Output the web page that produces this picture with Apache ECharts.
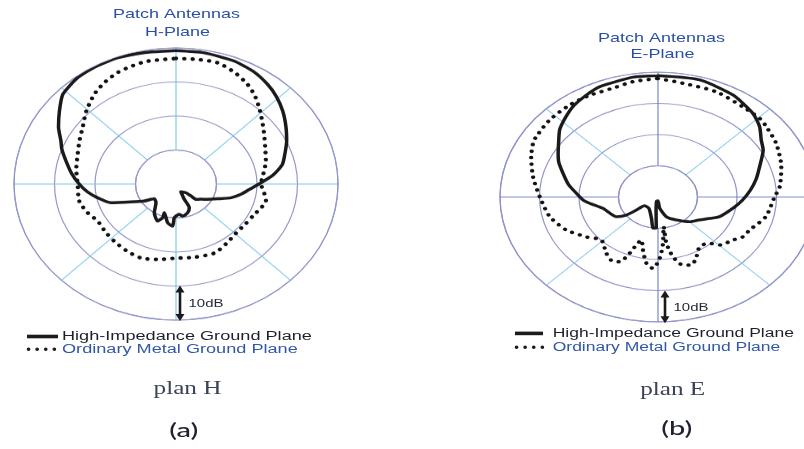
<!DOCTYPE html>
<html>
<head>
<meta charset="utf-8">
<script src="https://cdn.jsdelivr.net/npm/echarts@6/dist/echarts.min.js"></script>
<style>
  html, body { margin: 0; padding: 0; background: #fff; overflow: hidden; width: 804px; height: 449px; }
  #page { position: relative; width: 804px; height: 449px; overflow: hidden; }
  .plot { position: absolute; transform-origin: 50% 50%; }
  #labels { position: absolute; left: 0; top: 0; width: 804px; height: 449px; }
</style>
</head>
<body>
<div id="page">
  <div id="plotH" class="plot"></div>
  <div id="plotE" class="plot"></div>
  <div id="labels"></div>
</div>
<script>
// Radiation patterns as [angle in degrees clockwise from broadside, relative gain in dB]

// H-plane, high-impedance ground plane
const hPlaneHighImpedance = [
  [0, -0.8], [10, -0.8], [21.6, -1.1], [30, -1.8], [37.7, -3.0], [44, -4.3], [50.8, -6.0],
  [58, -8.0], [65.2, -9.9], [71, -11.5], [77.6, -13.1], [84, -16.0], [90, -19.5], [95, -21.8],
  [100.7, -23.7], [106.5, -25.8], [112.8, -28.8], [120, -31.0], [126, -32.4], [132.3, -33.3],
  [133.6, -34.9], [136.1, -36.4], [152.2, -37.4], [155.5, -35.1], [154.7, -32.3], [161.1, -31.1],
  [170, -30.4], [174.8, -31.1], [182.4, -30.1], [183.8, -27.6], [190.2, -28.4], [198.9, -31.1],
  [198.3, -29.6], [202.6, -28.2], [212.4, -30.0], [221.9, -32.6], [231.1, -33.1], [237.5, -30.7],
  [244.6, -27.7], [251.1, -23.0], [258.2, -20.2], [264, -18.0], [270, -16.1], [277, -14.0],
  [284, -12.0], [290, -10.0], [294, -8.9], [300, -6.5], [306.7, -4.1], [313.3, -1.6],
  [322.2, -0.4], [330, -0.2], [338.8, -0.2], [348.7, -0.6], [360, -0.8]
];

// H-plane, ordinary metal ground plane
const hPlaneOrdinaryMetal = [
  [0, -3.1], [8, -3.0], [16.1, -2.9], [24, -4.2], [31.1, -5.8], [37, -7.6], [42.5, -9.6],
  [49, -11.8], [56.2, -13.8], [64, -15.5], [73, -16.8], [82, -18.2], [90, -19.0], [96, -18.2],
  [102.9, -17.2], [108, -17.8], [114.9, -18.7], [124, -19.2], [134.1, -19.3], [145, -18.5],
  [155, -17.6], [168, -18.0], [180, -18.2], [191, -17.4], [201.7, -16.6], [212, -16.9],
  [222.1, -17.3], [231, -17.6], [240.4, -17.8], [249, -16.6], [258, -15.6], [270, -15.7],
  [280, -15.0], [289.8, -14.2], [298, -13.0], [305.7, -11.6], [314, -9.2], [322.6, -6.8],
  [329, -5.4], [336.3, -4.2], [343, -3.6], [349, -3.2], [360, -3.1]
];

// E-plane, high-impedance ground plane
const ePlaneHighImpedance = [
  [0, -1.1], [15.7, -1.0], [30.2, -2.2], [41.9, -4.0], [48.8, -5.8], [55, -8.1], [60.5, -9.4],
  [69.3, -12.5], [77, -14.5], [84.6, -16.5], [92.7, -18.6], [100, -20.5], [112, -23.2],
  [117.6, -25.2], [125, -27.2], [134.6, -28.7], [147.7, -31.3], [161.4, -33.3], [173.2, -36.4],
  [180, -38.8], [195, -38.6], [186, -35.3], [182.5, -30.0], [187, -29.9], [193.7, -33.0],
  [212.2, -35.7], [230.4, -35.6], [232.6, -33.1], [234.2, -30.1], [239.1, -27.7], [255.4, -25.6],
  [263.3, -22.6], [267.1, -21.0], [273.3, -19.3], [280, -17.0], [287.5, -14.8], [294, -12.5],
  [299, -11.1], [304.7, -9.4], [310.8, -7.1], [317, -5.5], [323.4, -3.9], [330, -2.8],
  [337.3, -1.7], [350.6, -1.1], [360, -1.1]
];

// E-plane, ordinary metal ground plane
const ePlaneOrdinaryMetal = [
  [0, -2.0], [9.9, -3.0], [23.6, -3.2], [37.1, -4.0], [46.1, -4.0], [50.6, -4.5], [60.1, -5.5],
  [72.7, -7.3], [83.9, -9.0], [90, -10.5], [103, -12.0], [114.5, -14.5], [120.6, -15.0],
  [127, -16.8], [133.8, -17.8], [139.5, -20.5], [146.5, -20.9], [153.1, -18.5], [158.8, -16.6],
  [163.8, -17.3], [168.8, -20.5], [171.8, -25.0], [171.4, -30.4], [175.1, -25.1], [178.7, -20.4],
  [183.2, -17.1], [187.9, -18.6], [192.6, -22.6], [197, -25.6], [199.6, -23.7], [202.2, -19.9],
  [205.1, -17.1], [208.8, -16.4], [215.9, -17.7], [226.1, -20.1], [234.9, -17.8], [245.5, -14.5],
  [257, -11.9], [270, -10.1], [281.6, -7.7], [291.9, -5.4], [298.5, -4.0], [302.1, -3.6],
  [312, -3.1], [322.8, -3.0], [332, -3.1], [341.9, -3.3], [350.3, -2.5], [360, -2.0]
];

// Radial scale: rings every 10 dB, plot centre at -40 dB, outer ring at 0 dB
const ringTicksDb = [-30, -20, -10, 0];
const centreDb = -40;

const seriesNames = ['High-Impedance Ground Plane', 'Ordinary Metal Ground Plane'];
const panelTitles = [['Patch Antennas', 'H-Plane'], ['Patch Antennas', 'E-Plane']];
const captions = [['plan H', '(a)'], ['plan E', '(b)']];
const scaleLabel = '10dB';

// Layout of the two polar plots (the grids are drawn as flattened ellipses)
const panels = [
  { el: 'plotH', cx: 175.5, cy: 183.5, r: 162, squash: 0.84,
    ringColor: '#9297c9', spokeColors: ['#79c3e8', '#7fc8ec'],
    solid: hPlaneHighImpedance, dotted: hPlaneOrdinaryMetal },
  { el: 'plotE', cx: 658.3, cy: 197, r: 158, squash: 0.79,
    ringColor: '#8d92c7', spokeColors: ['#6f7ec8', '#84c8ec'],
    solid: ePlaneHighImpedance, dotted: ePlaneOrdinaryMetal }
];

function toPolar(points) {
  return points.map(p => [p[1], p[0]]);
}

panels.forEach(p => {
  const size = 2 * p.r + 16;
  const div = document.getElementById(p.el);
  div.style.left = (p.cx - size / 2) + 'px';
  div.style.top = (p.cy - size / 2) + 'px';
  div.style.width = size + 'px';
  div.style.height = size + 'px';
  div.style.transform = 'scaleY(' + p.squash + ')';

  const innerR = p.r * (ringTicksDb[0] - centreDb) / (0 - centreDb);
  const chart = echarts.init(div, null, { renderer: 'canvas', devicePixelRatio: 1 });
  chart.setOption({
    animation: false,
    backgroundColor: 'transparent',
    polar: [
      { center: ['50%', '50%'], radius: [innerR, p.r] },
      { center: ['50%', '50%'], radius: [0, p.r] }
    ],
    angleAxis: [
      { polarIndex: 0, type: 'value', min: 0, max: 360, interval: 45, startAngle: 90, clockwise: true,
        axisLine: { show: true, lineStyle: { color: p.ringColor, width: 1.2 } },
        axisTick: { show: false }, axisLabel: { show: false },
        splitLine: { show: true, lineStyle: { color: p.spokeColors, width: 1.1 } } },
      { polarIndex: 1, type: 'value', min: 0, max: 360, startAngle: 90, clockwise: true, show: false }
    ],
    radiusAxis: [
      { polarIndex: 0, type: 'value', min: ringTicksDb[0], max: ringTicksDb[ringTicksDb.length - 1],
        interval: 10,
        axisLine: { show: false }, axisTick: { show: false }, axisLabel: { show: false },
        splitLine: { show: true, lineStyle: { color: p.ringColor, width: 1.2 } } },
      { polarIndex: 1, type: 'value', min: centreDb, max: 0, show: false }
    ],
    series: [
      { name: seriesNames[1], type: 'line', coordinateSystem: 'polar', polarIndex: 1,
        data: toPolar(p.dotted), symbol: 'none', smooth: 0.25, z: 3,
        lineStyle: { color: '#111111', width: 4.4, type: [0.1, 8.2], cap: 'round' } },
      { name: seriesNames[0], type: 'line', coordinateSystem: 'polar', polarIndex: 1,
        data: toPolar(p.solid), symbol: 'none', smooth: 0.2, z: 4,
        lineStyle: { color: '#1a1a1a', width: 3.5, cap: 'round', join: 'round' } }
    ]
  });
});

// Titles, legends, scale arrows and captions
function label(text, x, y, opts) {
  return {
    type: 'text', x: x, y: y, scaleX: opts.sx || 1, z: 10,
    style: {
      text: text, font: opts.font, fill: opts.fill,
      align: opts.align || 'center', textAlign: opts.align || 'center',
      verticalAlign: 'middle', textVerticalAlign: 'middle'
    }
  };
}

function arrow(x, y1, y2) {
  const head = 4.5, len = 6;
  return [
    { type: 'line', z: 10, shape: { x1: x, y1: y1 + len - 1, x2: x, y2: y2 - len + 1 },
      style: { stroke: '#1a1a1a', lineWidth: 2.6 } },
    { type: 'polygon', z: 10, shape: { points: [[x, y1], [x - head, y1 + len + 1], [x + head, y1 + len + 1]] },
      style: { fill: '#1a1a1a' } },
    { type: 'polygon', z: 10, shape: { points: [[x, y2], [x - head, y2 - len - 1], [x + head, y2 - len - 1]] },
      style: { fill: '#1a1a1a' } }
  ];
}

const titleFont = '13.5px "Liberation Sans", Arial, sans-serif';
const legendFont = '12.5px "Liberation Sans", Arial, sans-serif';
const captionFont = '18px "Liberation Serif", "Times New Roman", serif';
const letterFont = '500 20px Lato, "Open Sans", sans-serif';

const legendLayout = [
  { sx0: 27, sx1: 58, tx: 62, y0: 336.5, y1: 349.3, scale: 1.45 },
  { sx0: 515, sx1: 543, tx: 552.7, y0: 333.4, y1: 347.3, scale: 1.40 }
];
const titleLayout = [
  { x: 176.5, y0: 14, y1: 32.5 },
  { x: 661.5, y0: 38.3, y1: 54.3 }
];
const captionLayout = [
  { x: 187.5, y0: 389, x1: 183.7, y1: 431 },
  { x: 672.7, y0: 390, x1: 676.7, y1: 429 }
];
const scaleOffsets = [4.5, 6.7];

const elements = [];
panels.forEach((p, i) => {
  const t = titleLayout[i];
  elements.push(label(panelTitles[i][0], t.x, t.y0, { font: titleFont, fill: '#2a50a6', sx: 1.33 }));
  elements.push(label(panelTitles[i][1], t.x + 1, t.y1, { font: titleFont, fill: '#2a50a6', sx: 1.33 }));

  const lg = legendLayout[i];
  elements.push({ type: 'line', z: 10, shape: { x1: lg.sx0, y1: lg.y0, x2: lg.sx1, y2: lg.y0 },
    style: { stroke: '#1c1c1c', lineWidth: 3.6 } });
  elements.push({ type: 'line', z: 10, shape: { x1: lg.sx0 + 1.5, y1: lg.y1, x2: lg.sx1, y2: lg.y1 },
    style: { stroke: '#1c1c1c', lineWidth: 3.6, lineDash: [0.1, 8.5], lineCap: 'round' } });
  elements.push(label(seriesNames[0], lg.tx, lg.y0, { font: legendFont, fill: '#1d1f2c', sx: lg.scale, align: 'left' }));
  elements.push(label(seriesNames[1], lg.tx, lg.y1, { font: legendFont, fill: '#3157a8', sx: lg.scale, align: 'left' }));

  // 10 dB scale arrow between the -10 dB ring and the outer ring, below the centre
  const ax = p.cx + scaleOffsets[i];
  const yOuter = p.cy + p.r * p.squash;
  const yRing = p.cy + p.r * p.squash * (ringTicksDb[2] - centreDb) / (0 - centreDb);
  arrow(ax, yRing, yOuter + 1.5).forEach(e => elements.push(e));
  elements.push(label(scaleLabel, ax + 8.5, (yRing + yOuter) / 2 + 1.5,
    { font: '11px "Liberation Sans", Arial, sans-serif', fill: '#262a38', sx: 1.36, align: 'left' }));

  const c = captionLayout[i];
  elements.push(label(captions[i][0], c.x, c.y0, { font: captionFont, fill: '#3a4256', sx: 1.4 }));
  elements.push(label(captions[i][1], c.x1, c.y1, { font: letterFont, fill: '#1e2230', sx: 1.45 }));
});

const labelsChart = echarts.init(document.getElementById('labels'), null, { renderer: 'canvas', devicePixelRatio: 1 });
labelsChart.setOption({
  animation: false,
  backgroundColor: 'transparent',
  graphic: { elements: elements }
});
</script>
</body>
</html>
